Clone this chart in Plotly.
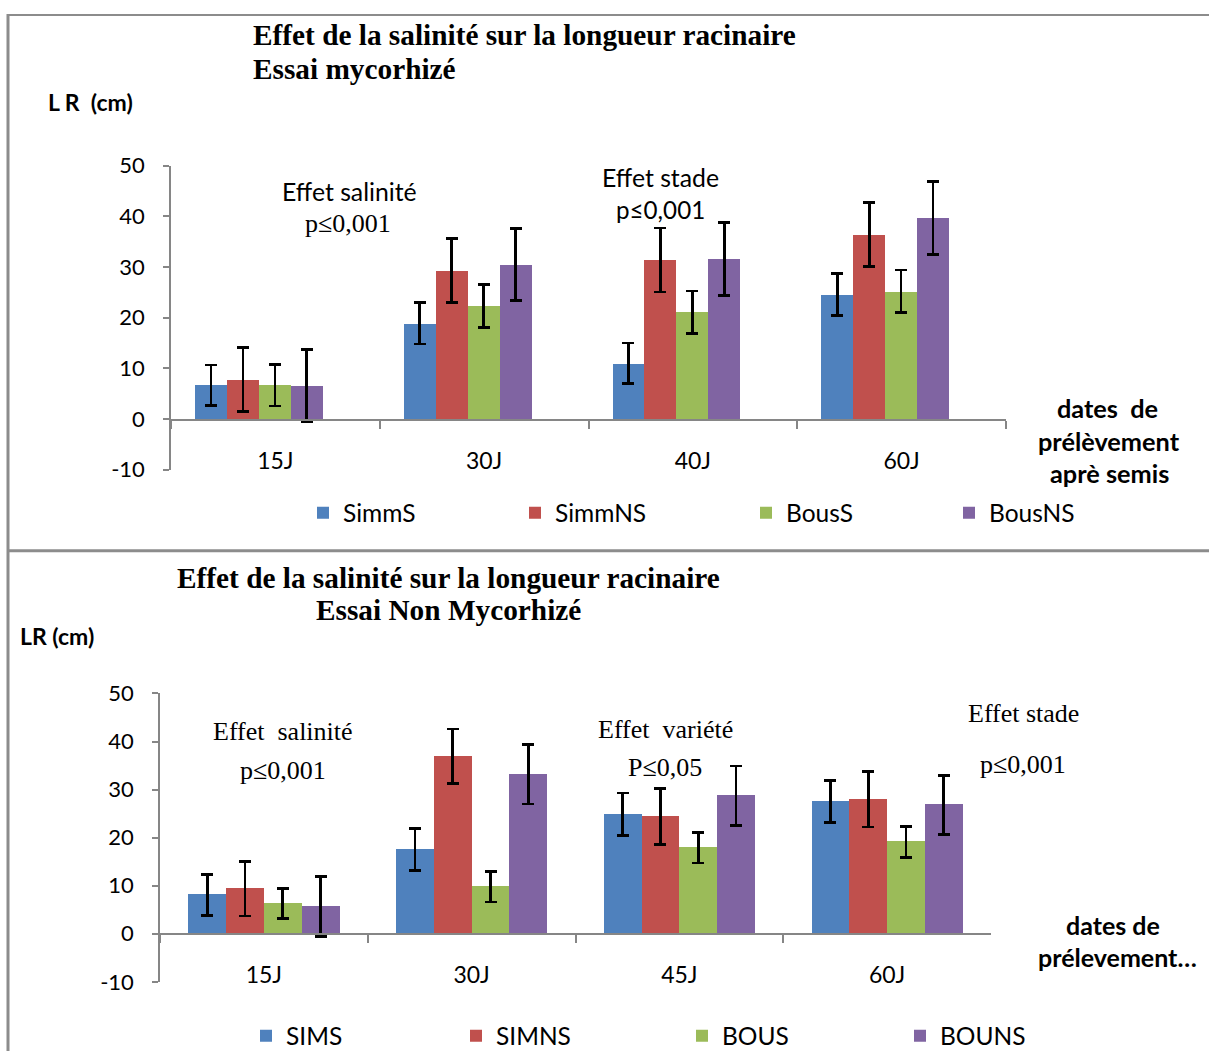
import plotly.graph_objects as go

W, H = 1209, 1064

# ---------------- data ----------------
cats_top = ["15J", "30J", "40J", "60J"]
names_top = ["SimmS", "SimmNS", "BousS", "BousNS"]
simms = [6.7, 18.9, 11.0, 24.6]
simms_err = [4.0, 4.1, 4.0, 4.1]
simmns = [7.8, 29.3, 31.4, 36.4]
simmns_err = [6.3, 6.3, 6.3, 6.3]
bouss = [6.7, 22.3, 21.1, 25.2]
bouss_err = [4.1, 4.2, 4.2, 4.2]
bousns = [6.6, 30.5, 31.6, 39.7]
bousns_err = [7.2, 7.1, 7.2, 7.2]

cats_bot = ["15J", "30J", "45J", "60J"]
names_bot = ["SIMS", "SIMNS", "BOUS", "BOUNS"]
sims = [8.1, 17.5, 24.9, 27.5]
sims_err = [4.3, 4.4, 4.4, 4.4]
simns = [9.4, 36.9, 24.4, 28.0]
simns_err = [5.7, 5.7, 5.8, 5.8]
bous = [6.3, 9.8, 17.9, 19.1]
bous_err = [3.1, 3.2, 3.2, 3.2]
bouns = [5.7, 33.2, 28.7, 26.8]
bouns_err = [6.2, 6.2, 6.2, 6.1]

yticks = [-10, 0, 10, 20, 30, 40, 50]
yticklabels = [str(v) for v in yticks]

colors = ["#4F81BD", "#C0504D", "#9BBB59", "#8064A2"]
SANS = "Lato, 'Liberation Sans', sans-serif"
SERIF = "'Liberation Serif', 'Times New Roman', serif"
GRAY = "#868686"

# vertical layout compensation (page is shown slightly compressed vertically)
VOFF, VSCALE = 13.3, 0.9745


def px(x):
    return x / W


def py(y):
    fy = (y - VOFF) / VSCALE
    return min(1.0, max(0.0, 1 - fy / H))


fig = go.Figure()

top_series = [simms, simmns, bouss, bousns]
top_errs = [simms_err, simmns_err, bouss_err, bousns_err]
bot_series = [sims, simns, bous, bouns]
bot_errs = [sims_err, simns_err, bous_err, bouns_err]

w_top, off_top = 0.153, -0.385
w_bot, off_bot = 0.182, -0.364

for i in range(4):
    fig.add_trace(go.Bar(
        x=cats_top, y=top_series[i], name=names_top[i],
        marker=dict(color=colors[i], line=dict(width=0)),
        width=w_top, offset=off_top + i * w_top,
        error_y=dict(type="data", array=top_errs[i], visible=True,
                     color="black", thickness=2.7, width=6),
        xaxis="x", yaxis="y", legend="legend" if i == 0 else f"legend{i+1}",
        showlegend=True,
    ))
for i in range(4):
    fig.add_trace(go.Bar(
        x=cats_bot, y=bot_series[i], name=names_bot[i],
        marker=dict(color=colors[i], line=dict(width=0)),
        width=w_bot, offset=off_bot + i * w_bot,
        error_y=dict(type="data", array=bot_errs[i], visible=True,
                     color="black", thickness=2.7, width=6),
        xaxis="x2", yaxis="y2", legend=f"legend{i+5}",
        showlegend=True,
    ))

xcommon = dict(type="category", range=[-0.5, 3.5], anchor="free",
               showline=True, linecolor=GRAY, linewidth=1.5,
               tickson="boundaries", ticks="outside", ticklen=8,
               tickcolor=GRAY, tickwidth=1.5, showgrid=False,
               ticklabelstandoff=21,
               tickfont=dict(family=SANS, size=23, color="black"))
ycommon = dict(range=[-10, 50], tickvals=yticks, ticktext=yticklabels,
               showline=True,
               linecolor=GRAY, linewidth=1.5, ticks="outside", ticklen=6,
               tickcolor=GRAY, tickwidth=1.5, showgrid=False, zeroline=False,
               ticklabelstandoff=14,
               tickfont=dict(family=SANS, size=22, color="black"))

layout = dict(
    width=W, height=H, margin=dict(l=0, r=0, t=0, b=0),
    paper_bgcolor="white", plot_bgcolor="white",
    barmode="overlay", bargap=0, showlegend=True,
    xaxis=dict(xcommon, domain=[px(171), px(1006)], position=py(419)),
    yaxis=dict(ycommon, domain=[py(469), py(165)], anchor="x"),
    xaxis2=dict(xcommon, domain=[px(160), px(991)], position=py(933)),
    yaxis2=dict(ycommon, domain=[py(981), py(692.7)], anchor="x2"),
)

top_leg_x = [319, 531, 762, 965]
bot_leg_x = [262, 472, 698, 916]
for i in range(8):
    key = "legend" if i == 0 else f"legend{i+1}"
    lx = top_leg_x[i] if i < 4 else bot_leg_x[i - 4]
    ly = 512 if i < 4 else 1035
    layout[key] = dict(x=px(lx - 16), y=py(ly), xanchor="left",
                       yanchor="middle", orientation="h", visible=True,
                       bgcolor="rgba(0,0,0,0)", borderwidth=0,
                       font=dict(family=SANS, size=24.5, color="black"))

fig.update_layout(**layout)


def ann(text, x, y, font, size, bold=False, xanchor="center"):
    t = f"<b>{text}</b>" if bold else text
    fig.add_annotation(text=t, x=px(x), y=py(y), xref="paper", yref="paper",
                       xanchor=xanchor, yanchor="middle", showarrow=False,
                       font=dict(family=font, size=size, color="black"))


# top panel texts
ann("Effet de la salinité sur la longueur racinaire", 251, 34, SERIF, 29.3, True, "left")
ann("Essai mycorhizé", 251, 68, SERIF, 29.3, True, "left")
ann("L R\u00a0\u00a0(cm)", 46, 101, SANS, 23, True, "left")
ann("Effet salinité", 349, 191, SANS, 24.8)
ann("p≤0,001", 348, 223, SERIF, 26)
ann("Effet stade", 660, 177, SANS, 24.8)
ann("p≤0,001", 660, 209, SANS, 24.2)
ann("dates\u00a0\u00a0de", 1107, 407, SANS, 25.3, True)
ann("prélèvement", 1109, 440, SANS, 25.3, True)
ann("aprè semis", 1109, 472, SANS, 25.3, True)

# bottom panel texts
ann("Effet de la salinité sur la longueur racinaire", 448, 577, SERIF, 29.3, True)
ann("Essai Non Mycorhizé", 448, 609, SERIF, 29.3, True)
ann("LR (cm)", 18, 635, SANS, 23, True, "left")
ann("Effet\u00a0\u00a0salinité", 283, 731, SERIF, 26)
ann("p≤0,001", 283, 770, SERIF, 26)
ann("Effet\u00a0\u00a0variété", 665, 729, SERIF, 26)
ann("P≤0,05", 665, 767, SERIF, 26)
ann("Effet stade", 1023, 713, SERIF, 26)
ann("p≤0,001", 1023, 764, SERIF, 26)
ann("dates de", 1113, 924, SANS, 25, True)
ann("prélevement…", 1117, 956, SANS, 25, True)

# frame lines
frame = dict(color="#8c8c8c", width=3)
fig.add_shape(type="line", xref="paper", yref="paper", x0=px(7), x1=1,
              y0=py(12) - 0.001, y1=py(12) - 0.001,
              line=dict(color="#8c8c8c", width=2))
fig.add_shape(type="line", xref="paper", yref="paper", x0=px(8), x1=px(8),
              y0=py(12), y1=0, line=frame)
fig.add_shape(type="line", xref="paper", yref="paper", x0=px(7), x1=1,
              y0=py(550), y1=py(550), line=frame)

fig.write_html(
    "out.html",
    config={"displayModeBar": False},
    post_script=(
        "var d=document.getElementById('{plot_id}');"
        "d.style.position='fixed';d.style.top='0px';d.style.left='0px';"
        "document.body.style.margin='0';document.body.style.overflow='hidden';"
    ),
)
